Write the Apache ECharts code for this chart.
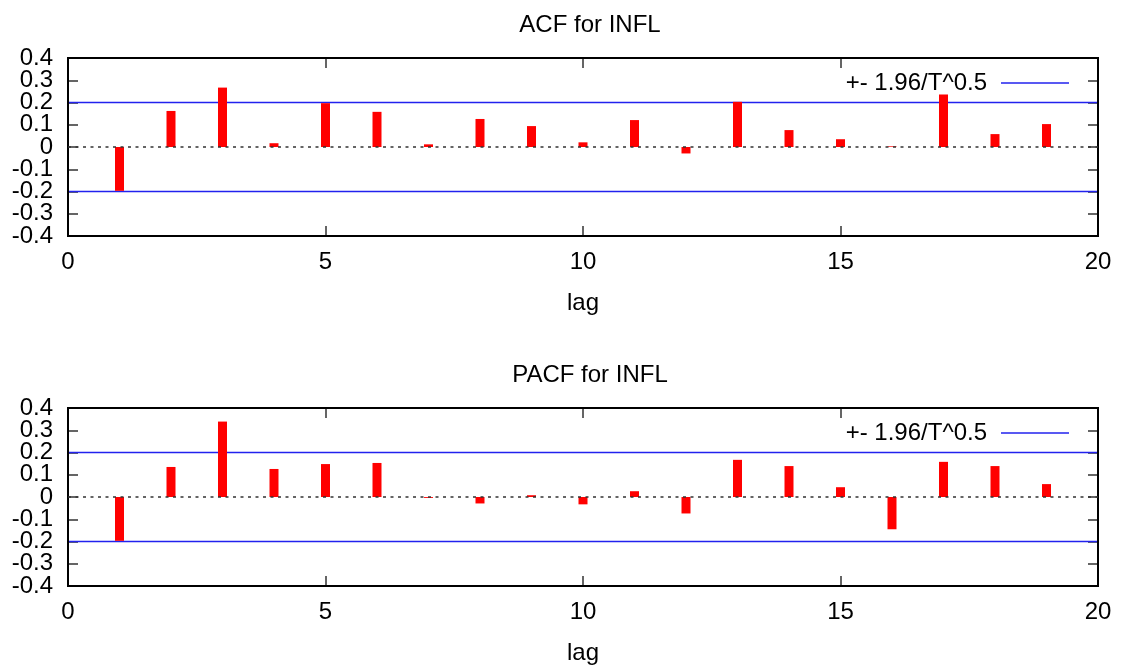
<!DOCTYPE html>
<html>
<head>
<meta charset="utf-8">
<script src="https://cdn.jsdelivr.net/npm/echarts@6/dist/echarts.min.js"></script>
<style>
html,body{margin:0;padding:0;background:#fff;}
#c{width:1124px;height:666px;}
</style>
</head>
<body>
<div id="c"></div>
<script>
// ---- data ----
var lags = [1,2,3,4,5,6,7,8,9,10,11,12,13,14,15,16,17,18,19];
var acfValues  = [-0.197,0.162,0.267,0.017,0.197,0.158,0.012,0.126,0.094,0.021,0.121,-0.029,0.203,0.076,0.035,0.003,0.236,0.058,0.103];
var pacfValues = [-0.197,0.135,0.339,0.126,0.148,0.153,-0.004,-0.029,0.008,-0.033,0.026,-0.074,0.167,0.139,0.044,-0.145,0.158,0.139,0.058];
var bandValue = [0.2];          // +- 1.96/T^0.5
var xRange = [0, 20];
var titles = ['ACF for INFL', 'PACF for INFL'];
var bandName = '+- 1.96/T^0.5';

var FONT = '"Liberation Sans", Arial, Helvetica, sans-serif';
var FS = 24;
var chart = echarts.init(document.getElementById('c'), null, {renderer:'canvas'});

var gridTops = [58, 408];
var gridH = 178;
var plotLeft = 68, plotRight = 26;

function pairs(vals){ return lags.map(function(l,i){ return [l, vals[i]]; }); }
function hline(v){ return xRange.map(function(x){ return [x, v]; }); }
function fmtY(v){ var r = Math.round(v*10)/10; return r === 0 ? '0' : r.toFixed(1); }
// labels are split between two overlaid left axes so that dense labels are not auto-hidden
function evenLabel(v){ var k = Math.round(v*10); return (Math.abs(k) % 2 === 0) ? fmtY(v) : ''; }
function oddLabel(v){ var k = Math.round(v*10); return (Math.abs(k) % 2 === 1) ? fmtY(v) : ''; }

var grids = [], xAxes = [], yAxes = [], series = [], legends = [], titleOpts = [];
var datasets = [acfValues, pacfValues];

for (var g = 0; g < 2; g++) {
  grids.push({left: plotLeft, right: plotRight, top: gridTops[g], height: gridH,
              show: true, borderColor: '#000', borderWidth: 2, backgroundColor: 'transparent', z: 5});
  var tickStyle = {show: true, inside: true, length: 10, lineStyle: {color: '#333', width: 1.5}};
  var hiddenLine = {show: false, onZero: false};
  xAxes.push({type: 'value', gridIndex: g, min: 0, max: 20, interval: 5, position: 'bottom',
    axisLine: hiddenLine, axisTick: tickStyle, splitLine: {show: false},
    axisLabel: {fontSize: FS, color: '#000', margin: 14, fontFamily: FONT, showMinLabel: true, showMaxLabel: true},
    name: 'lag', nameLocation: 'middle', nameGap: 55,
    nameTextStyle: {fontSize: FS, color: '#000', fontFamily: FONT}});
  xAxes.push({type: 'value', gridIndex: g, min: 0, max: 20, interval: 5, position: 'top',
    axisLine: hiddenLine, axisTick: tickStyle, splitLine: {show: false},
    axisLabel: {show: false}});
  var labelBase = {fontSize: FS, color: '#000', margin: 15, fontFamily: FONT,
      showMinLabel: true, showMaxLabel: true, hideOverlap: false};
  yAxes.push({type: 'value', gridIndex: g, min: -0.4, max: 0.4, interval: 0.1, position: 'left',
    axisLine: hiddenLine, axisTick: tickStyle, splitLine: {show: false},
    axisLabel: Object.assign({}, labelBase, {formatter: evenLabel})});
  yAxes.push({type: 'value', gridIndex: g, min: -0.4, max: 0.4, interval: 0.1, position: 'left',
    axisLine: hiddenLine, axisTick: {show: false}, splitLine: {show: false},
    axisLabel: Object.assign({}, labelBase, {formatter: oddLabel})});
  yAxes.push({type: 'value', gridIndex: g, min: -0.4, max: 0.4, interval: 0.1, position: 'right',
    axisLine: hiddenLine, axisTick: tickStyle, splitLine: {show: false},
    axisLabel: {show: false}});

  var yi = 3*g;
  series.push({type: 'bar', name: titles[g], xAxisIndex: 2*g, yAxisIndex: yi,
    data: pairs(datasets[g]), barWidth: 9, itemStyle: {color: '#ff0000'}, silent: true,
    markLine: {silent: true, symbol: 'none', label: {show: false},
      lineStyle: {color: '#333', type: [3, 4.5], width: 1.5},
      data: [{yAxis: 0}]}, z: 3});
  series.push({type: 'line', name: bandName, xAxisIndex: 2*g, yAxisIndex: yi,
    data: hline(bandValue[0]), symbol: 'none', lineStyle: {color: '#2222ee', width: 1.5}, itemStyle: {color:'#2222ee'}, z: 2});
  series.push({type: 'line', name: bandName, xAxisIndex: 2*g, yAxisIndex: yi,
    data: hline(-bandValue[0]), symbol: 'none', lineStyle: {color: '#2222ee', width: 1.5}, itemStyle: {color:'#2222ee'}, z: 2});

  legends.push({data: [bandName], right: 55, top: gridTops[g] + 13, icon: 'rect',
    itemWidth: 68, itemHeight: 1.5, align: 'right', padding: 0, selectedMode: false,
    textStyle: {fontSize: FS, color: '#000', fontFamily: FONT, padding: [0, 9, 0, 0]}});
  titleOpts.push({text: titles[g], left: 585, textAlign: 'center', top: gridTops[g] - 50,
    textStyle: {fontSize: FS, fontWeight: 'normal', color: '#000', fontFamily: FONT}});
}

chart.setOption({
  animation: false,
  backgroundColor: '#fff',
  title: titleOpts,
  legend: legends,
  grid: grids,
  xAxis: xAxes,
  yAxis: yAxes,
  series: series
});
</script>
</body>
</html>
